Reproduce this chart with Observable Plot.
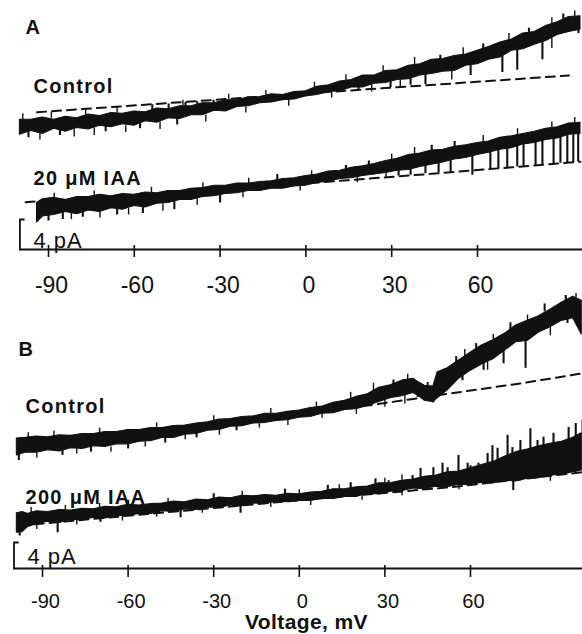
<!DOCTYPE html>
<html><head><meta charset="utf-8">
<script src="https://cdn.jsdelivr.net/npm/d3@7"></script>
<script src="https://cdn.jsdelivr.net/npm/@observablehq/plot@0.6"></script>
<style>
html,body{margin:0;padding:0;background:#fff;}
#wrap{position:relative;width:582px;height:634px;overflow:hidden;background:#fff;font-family:"Liberation Sans",Arial,Helvetica,sans-serif;}
#wrap svg{position:absolute;left:0;top:0;background:transparent;}
</style></head><body><div id="wrap"></div>
<script>
const ink = "#111";
const tickValues = [-90, -60, -30, 0, 30, 60];
const tickLabels = ["-90", "-60", "-30", "0", "30", "60"];
const axisSpan = [-100, 100];
const scaleBarPA = 4;
const scaleBarLabel = "4 pA";
const xTitle = "Voltage, mV";
const panelNames = ["A", "B"];
const traceNamesA = ["Control", "20 μM IAA"];
const traceNamesB = ["Control", "200 μM IAA"];

// Panel A, control: [mV, low pA, high pA]
const controlA = [
[-100,15.3,17.3],[-96,15.8,17.3],[-92,15.4,17.6],[-88,16.1,17.3],[-84,15.7,17.7],[-80,16.2,17.5],
[-76,16.0,18.0],[-72,16.5,17.8],[-68,16.3,18.2],[-64,16.7,18.1],[-60,16.5,18.4],[-56,17.1,18.3],
[-52,16.9,18.8],[-48,17.5,18.7],[-44,17.4,19.1],[-40,17.9,19.1],[-36,17.9,19.5],[-32,18.5,19.5],
[-28,18.4,19.9],[-24,19.0,19.9],[-20,19.1,20.3],[-16,19.5,20.3],[-12,19.6,20.7],[-8,19.9,20.6],
[-4,20.0,21.0],[0,20.4,21.1],[4,20.6,21.7],[8,21.0,21.9],[12,21.1,22.4],[16,21.6,22.6],
[20,21.6,23.2],[24,22.1,23.2],[28,22.2,23.8],[32,22.6,23.9],[36,22.7,24.5],[40,23.2,24.7],
[44,23.4,25.3],[48,23.7,25.4],[52,23.8,25.8],[56,24.5,26.0],[60,24.7,26.5],[64,25.3,27.0],
[68,25.6,27.6],[72,26.5,28.0],[76,26.7,28.8],[80,27.3,29.0],[84,27.8,29.8],[88,28.6,30.3],
[92,29.0,31.0],[96,29.3,31.1]];
// spikes: [mV, from pA, to pA]
const controlASpikes = [
[18.4,22.0,21.2],[29.6,23.0,21.6],[36.6,23.5,21.9],[41.8,23.9,22.0],[57.6,25.2,23.2],[68.7,26.5,23.6],
[73.9,27.2,23.9],[82.7,28.5,25.3],[95.3,30.0,28.8],
[-53.7,18.2,19.3],[-48,18.4,19.4],[-42.1,18.6,19.6],[-38,18.8,19.7],[-32.3,19.0,19.9],
[-97,16.0,14.9],[-86,16.3,15.2],[-70,16.8,15.7],[-58,17.2,16.1],[-45,17.8,16.6],
[47,24.8,25.9],[62,26.0,27.4],[78,28.0,29.5],[90,30.0,31.4]];
const controlANoise = [
[-93,15.6,14.6],[-81,16.0,15.0],[-74,16.2,15.2],[-63,16.5,15.6],[-51,17.0,16.0],[-35,17.9,17.0],
[-21,19.0,18.2],[-6,19.9,19.1],[9,21.0,20.2],[23,22.0,21.0],[33,22.6,21.5],[51,23.8,22.6],[86,28.2,26.8],
[-99,17.3,18.1],[-89,17.5,18.3],[-77,18.0,18.7],[-66,18.2,19.0],[-43,19.2,19.9],[-27,20.0,20.7],
[-14,20.5,21.2],[3,21.6,22.3],[14,22.5,23.3],[27,23.6,24.5],[38,24.6,25.6],[55,25.9,26.9],
[71,27.8,28.8],[86,30.0,30.9],[94,31.0,31.8]];
const controlADashed = [[-94,18.3],[0,20.8],[92,23.2]];

// Panel A, 20 µM IAA
const iaa20A = [
[-94,3.6,6.2],[-92,4.4,6.7],[-88,4.6,6.9],[-84,5.0,6.6],[-80,4.7,7.0],[-76,5.2,7.0],[-72,5.0,7.3],
[-68,5.5,7.1],[-64,5.3,7.4],[-60,5.8,7.3],[-56,5.6,7.6],[-52,6.1,7.5],[-48,6.2,7.8],[-44,6.6,7.8],
[-40,6.6,8.1],[-36,7.0,8.2],[-32,7.1,8.5],[-28,7.4,8.5],[-24,7.5,8.8],[-20,7.8,8.8],[-16,7.8,9.0],
[-12,8.1,9.1],[-8,8.1,9.4],[-4,8.4,9.5],[0,8.5,9.8],[4,8.9,10.0],[8,9.0,10.4],[12,9.4,10.5],
[16,9.5,10.9],[20,9.8,11.1],[24,10.0,11.4],[28,10.2,11.8],[32,10.5,12.1],[36,10.6,12.6],
[40,11.0,12.8],[44,11.3,13.2],[48,11.6,13.3],[52,12.0,13.7],[56,12.2,13.9],[60,12.6,14.2],
[64,12.9,14.4],[68,13.3,14.9],[72,13.5,15.1],[76,14.0,15.4],[80,14.2,15.7],[84,14.6,16.1],
[88,14.8,16.3],[92,15.3,16.8],[96,15.4,16.9]];
const iaa20ASpikes = [
[32.4,11.5,9.8],[36.6,11.8,9.9],[41.8,12.3,10.1],[46.4,12.6,10.2],[50.6,12.9,10.3],[58.2,13.5,9.9],
[64.5,14.0,10.7],[67.3,14.3,10.8],[70.4,14.5,10.9],[73.9,14.8,11.0],[76.1,15.0,11.1],[80.3,15.2,11.2],
[82.7,15.5,11.3],[86.6,15.8,11.4],[89,16.0,11.5],[91.4,16.2,11.6],[93.5,16.4,11.6],[95.2,16.5,11.7],
[-90,5.0,3.8],[-85,5.2,4.0],[-78,5.4,4.3],[-66,5.7,4.6],[-57,6.0,4.8],[-46,6.6,5.3],[-30,7.3,6.2],
[-10,9.0,10.0],[14,10.2,11.2],[22,10.8,11.8],[44,12.8,13.9],[52,13.4,14.4]];
const iaa20ANoise = [
[-82,4.9,4.0],[-72,5.1,4.2],[-62,5.5,4.6],[-50,6.1,5.1],[-38,6.8,5.9],[-22,7.6,6.9],[-2,8.5,7.8],
[18,9.6,8.9],[28,10.2,9.5],
[-88,6.8,7.5],[-74,7.1,7.8],[-54,7.5,8.3],[-36,8.2,8.9],[-20,8.8,9.5],[2,9.8,10.5],[30,11.9,12.7],
[38,12.7,13.6],[62,14.3,15.2],[74,15.2,16.1],[86,16.2,17.0],[94,16.8,17.6]];
const iaa20ADashed = [[-98,6.3],[-92,6.5],[-41,7.5],[0,8.8],[44,10.1],[96,11.7]];

// Panel B, control
const controlB = [
[-99,17.4,20.0],[-96,17.8,20.1],[-92,17.8,20.3],[-88,18.2,20.2],[-84,18.0,20.5],[-80,18.5,20.4],
[-76,18.4,20.7],[-72,18.8,20.7],[-68,18.7,21.0],[-64,19.1,21.0],[-60,19.1,21.3],[-56,19.5,21.3],
[-52,19.6,21.6],[-48,20.1,21.6],[-44,20.1,21.9],[-40,20.6,22.0],[-36,20.7,22.3],[-32,21.2,22.5],
[-28,21.3,22.9],[-24,21.8,23.0],[-20,21.9,23.3],[-16,22.3,23.4],[-12,22.4,23.8],[-8,22.7,23.8],
[-4,22.8,24.1],[0,23.2,24.3],[4,23.3,24.7],[8,23.8,24.9],[12,23.9,25.5],[16,24.4,25.8],
[20,24.5,26.4],[24,25.0,26.8],[28,25.6,27.8],[32,26.2,28.2],[36,26.5,28.9],[40,27.0,29.2],
[42,26.5,28.6],[44,25.8,28.1],[47,25.6,28.0],[48.5,26.2,30.2],[52,27.4,30.8],[56,29.2,32.0],
[60,30.4,33.2],[64,31.4,34.3],[68,32.2,35.1],[72,33.5,36.1],[76,34.8,37.4],[80,35.0,38.1],
[84,36.3,38.8],[88,37.1,39.8],[92,38.1,40.9],[96,38.5,41.8],[99,36.0,41.2]];
const controlBSpikes = [
[41.5,27.5,26.3],[47,26.5,25.5],[57.2,30.0,28.9],[64.6,32.0,30.5],[71.6,33.8,31.5],[79.3,35.5,30.8],
[94,39.0,37.7],[93.4,41.0,42.0],[86,39.5,40.7],[74,36.5,37.8],[62,33.5,34.6],[55,31.5,32.6],
[33,28.0,29.0],[45,27.5,28.6],
[-98.3,17.8,16.6],[-83,18.3,17.4],[-73,18.8,17.9],[-60,19.3,18.4],[-47,20.2,19.3],[-36,21.0,20.1],[-22,22.0,21.2]];
const controlBNoise = [
[-92,17.8,17.0],[-78,18.4,17.6],[-66,18.7,17.9],[-54,19.5,18.7],[-40,20.6,19.8],[-28,21.3,20.5],
[-14,22.3,21.6],[-4,22.8,22.0],[8,23.8,23.1],[20,24.5,23.7],[30,25.9,24.8],[37,26.6,25.3],[66,31.8,30.5],
[88,37.1,35.8],
[-95,20.1,20.9],[-86,20.3,21.1],[-70,20.8,21.6],[-50,21.6,22.4],[-30,22.7,23.5],[-10,23.8,24.6],
[6,24.8,25.6],[18,26.1,27.1],[26,27.3,28.5],[38,29.0,29.9],[58,32.6,33.7],[68,35.1,36.0],[80,38.0,39.0],
[97,41.6,42.3]];
const controlBDashed = [[-98,20.0],[-75,20.4],[-35,22.0],[0,23.7],[26,25.2],[54,27.0],[78,28.5],[99,30.0]];

// Panel B, 200 µM IAA
const iaa200B = [
[-99,5.5,8.5],[-97,5.6,8.7],[-95,6.4,8.4],[-92,6.8,8.8],[-88,7.2,8.7],[-84,7.0,9.0],[-80,7.5,8.9],
[-76,7.4,9.2],[-72,7.8,9.1],[-68,7.7,9.5],[-64,8.1,9.4],[-60,8.1,9.8],[-56,8.4,9.7],[-52,8.4,9.9],
[-48,8.8,10.0],[-44,8.7,10.3],[-40,9.1,10.2],[-36,9.0,10.6],[-32,9.4,10.5],[-28,9.3,10.9],
[-24,9.7,10.8],[-20,9.6,11.2],[-16,10.0,11.1],[-12,9.9,11.3],[-8,10.3,11.2],[-4,10.2,11.5],
[0,10.4,11.4],[4,10.4,11.7],[8,10.7,11.8],[12,10.7,12.2],[16,11.0,12.2],[20,11.0,12.5],
[24,11.5,12.6],[28,11.4,13.1],[32,11.8,13.1],[36,11.9,13.5],[40,12.3,13.7],[44,12.2,14.1],
[48,12.6,14.3],[52,12.5,14.8],[56,12.9,14.9],[60,12.8,15.4],[64,13.2,15.9],[68,13.1,16.4],
[72,13.5,17.2],[76,13.4,17.9],[80,13.8,18.3],[84,13.9,18.8],[88,14.3,19.2],[92,14.4,19.5],
[96,14.8,20.1],[99,15.1,20.8]];
const iaa200BSpikes = [
[26.7,11.6,13.8],[31.3,11.9,13.5],[39.7,12.4,14.3],[42.5,12.5,15.4],[47,12.7,15.5],[50.2,12.8,16.2],
[52,12.9,15.5],[55.8,13.0,17.4],[59,13.1,16.2],[60,13.1,15.8],[62.8,13.3,16.2],[66,13.4,17.7],
[67.7,13.4,18.9],[69.5,13.5,18.5],[73,13.6,20.5],[74.7,13.6,18.6],[77.5,13.7,19.7],[81,13.9,21.5],
[83.5,14.0,19.7],[85.6,14.1,20.2],[89.1,14.3,20.8],[92.3,14.5,19.4],[94.4,14.6,21.7],[96.9,14.8,22.3],
[99.3,15.0,22.8],
[-98,7.0,5.0],[-84.7,7.5,5.5],[-69.7,8.0,7.1],[-41.6,9.3,7.8],[-20.6,10.2,8.5],[75,13.8,12.0],
[-60,9.6,10.5],[-30,10.6,11.5],[-5,11.3,12.2],[10,11.8,12.8],[18,12.2,13.2]];
const iaa200BNoise = [
[-92,6.9,6.0],[-78,7.5,6.7],[-62,8.1,7.3],[-50,8.6,7.9],[-34,9.2,8.5],[-10,10.1,9.4],[4,10.4,9.7],
[22,11.2,10.5],[36,11.9,11.2],[56,12.9,12.1],[88,14.3,13.4],
[-94,8.6,9.4],[-82,9.0,9.7],[-70,9.3,10.0],[-46,10.1,10.8],[-20,11.2,11.9],[0,11.4,12.1],
[14,12.2,12.9],[30,13.1,13.9],[36,13.5,14.4]];
const iaa200BDashed = [[-98,6.6],[0,10.5],[53,12.5],[99,14.8]];

function label(text, dx, dy, size, weight, anchor = "start") {
  return Plot.text([text], {frameAnchor: "top-left", dx, dy, text: d => d, textAnchor: anchor,
    lineAnchor: "bottom", fontSize: size, fontWeight: weight, fill: ink,
    fontFamily: "Liberation Sans, Arial, Helvetica, sans-serif"});
}

function panel(cfg) {
  const marks = [];
  for (const band of cfg.bands)
    marks.push(Plot.areaY(band, {x: d => d[0], y1: d => d[1], y2: d => d[2], fill: ink, stroke: ink, strokeWidth: 1.1}));
  marks.push(Plot.ruleX(cfg.spikes, {x: d => d[0], y1: d => d[1], y2: d => d[2], stroke: ink, strokeWidth: 2.1}));
  marks.push(Plot.ruleX(cfg.noise, {x: d => d[0], y1: d => d[1], y2: d => d[2], stroke: ink, strokeWidth: 1.4}));
  for (const dl of cfg.dashed)
    marks.push(Plot.line(dl, {x: d => d[0], y: d => d[1], stroke: ink, strokeWidth: 2, strokeDasharray: "9,6"}));
  marks.push(Plot.ruleY([0], {x1: () => axisSpan[0], x2: () => axisSpan[1], stroke: ink, strokeWidth: 1.8}));
  marks.push(Plot.ruleX(tickValues, {x: d => d, y1: () => cfg.tickLow, y2: () => cfg.tickHigh, stroke: ink, strokeWidth: 1.6}));
  marks.push(Plot.text(tickValues, {x: d => d, y: () => 0, text: (d, i) => tickLabels[i], dy: cfg.labelDy, dx: 3,
    fontSize: cfg.labelSize, lineAnchor: "bottom", textAnchor: "middle", fill: ink,
    fontFamily: "Liberation Sans, Arial, Helvetica, sans-serif"}));
  marks.push(Plot.line([[axisSpan[0], 0], [axisSpan[0], scaleBarPA], [axisSpan[0] + 1.4, scaleBarPA]],
    {x: d => d[0], y: d => d[1], stroke: ink, strokeWidth: 1.8}));
  marks.push(...cfg.labels);
  return Plot.plot({
    width: 582, height: 634, marginTop: 0, marginRight: 0, marginBottom: 0, marginLeft: 0,
    style: {background: "transparent", overflow: "visible"},
    x: {domain: axisSpan, range: cfg.xRange, axis: null},
    y: {domain: [0, 10], range: [cfg.axisY, cfg.axisY - 10 * cfg.pxPerPA], axis: null},
    marks
  });
}

const plotA = panel({
  xRange: [19.4, 591.4], axisY: 249, pxPerPA: 7.5, tickLow: -1.07, tickHigh: 0.53, labelDy: 43, labelSize: 23,
  bands: [controlA, iaa20A], spikes: controlASpikes.concat(iaa20ASpikes), noise: controlANoise.concat(iaa20ANoise),
  dashed: [controlADashed, iaa20ADashed],
  labels: [label(panelNames[0], 25, 33, 20, "bold"), label(traceNamesA[0], 33, 92, 20, "bold"),
           label(traceNamesA[1], 33, 184, 20, "bold"), label(scaleBarLabel, 33, 247, 22, "normal")]
});
const plotB = panel({
  xRange: [13.5, 584.1], axisY: 568, pxPerPA: 6.5, tickLow: -1.38, tickHigh: 0.46, labelDy: 39, labelSize: 20,
  bands: [controlB, iaa200B], spikes: controlBSpikes.concat(iaa200BSpikes), noise: controlBNoise.concat(iaa200BNoise),
  dashed: [controlBDashed, iaa200BDashed],
  labels: [label(panelNames[1], 18, 355, 20, "bold"), label(traceNamesB[0], 25, 412, 20, "bold"),
           label(traceNamesB[1], 25, 503, 20, "bold"), label(scaleBarLabel, 27, 563, 22, "normal"),
           label(xTitle, 306, 628, 21, "bold", "middle")]
});
const wrap = document.getElementById("wrap");
wrap.append(plotA, plotB);
const spaced = new Set([...traceNamesA, ...traceNamesB]);
d3.selectAll("#wrap text").each(function () {
  const t = this.textContent;
  if (spaced.has(t)) this.style.letterSpacing = "1.3px";
  else if (t === scaleBarLabel) this.style.letterSpacing = "1px";
  else if (t === xTitle) this.style.letterSpacing = "0.4px";
});
</script></body></html>
